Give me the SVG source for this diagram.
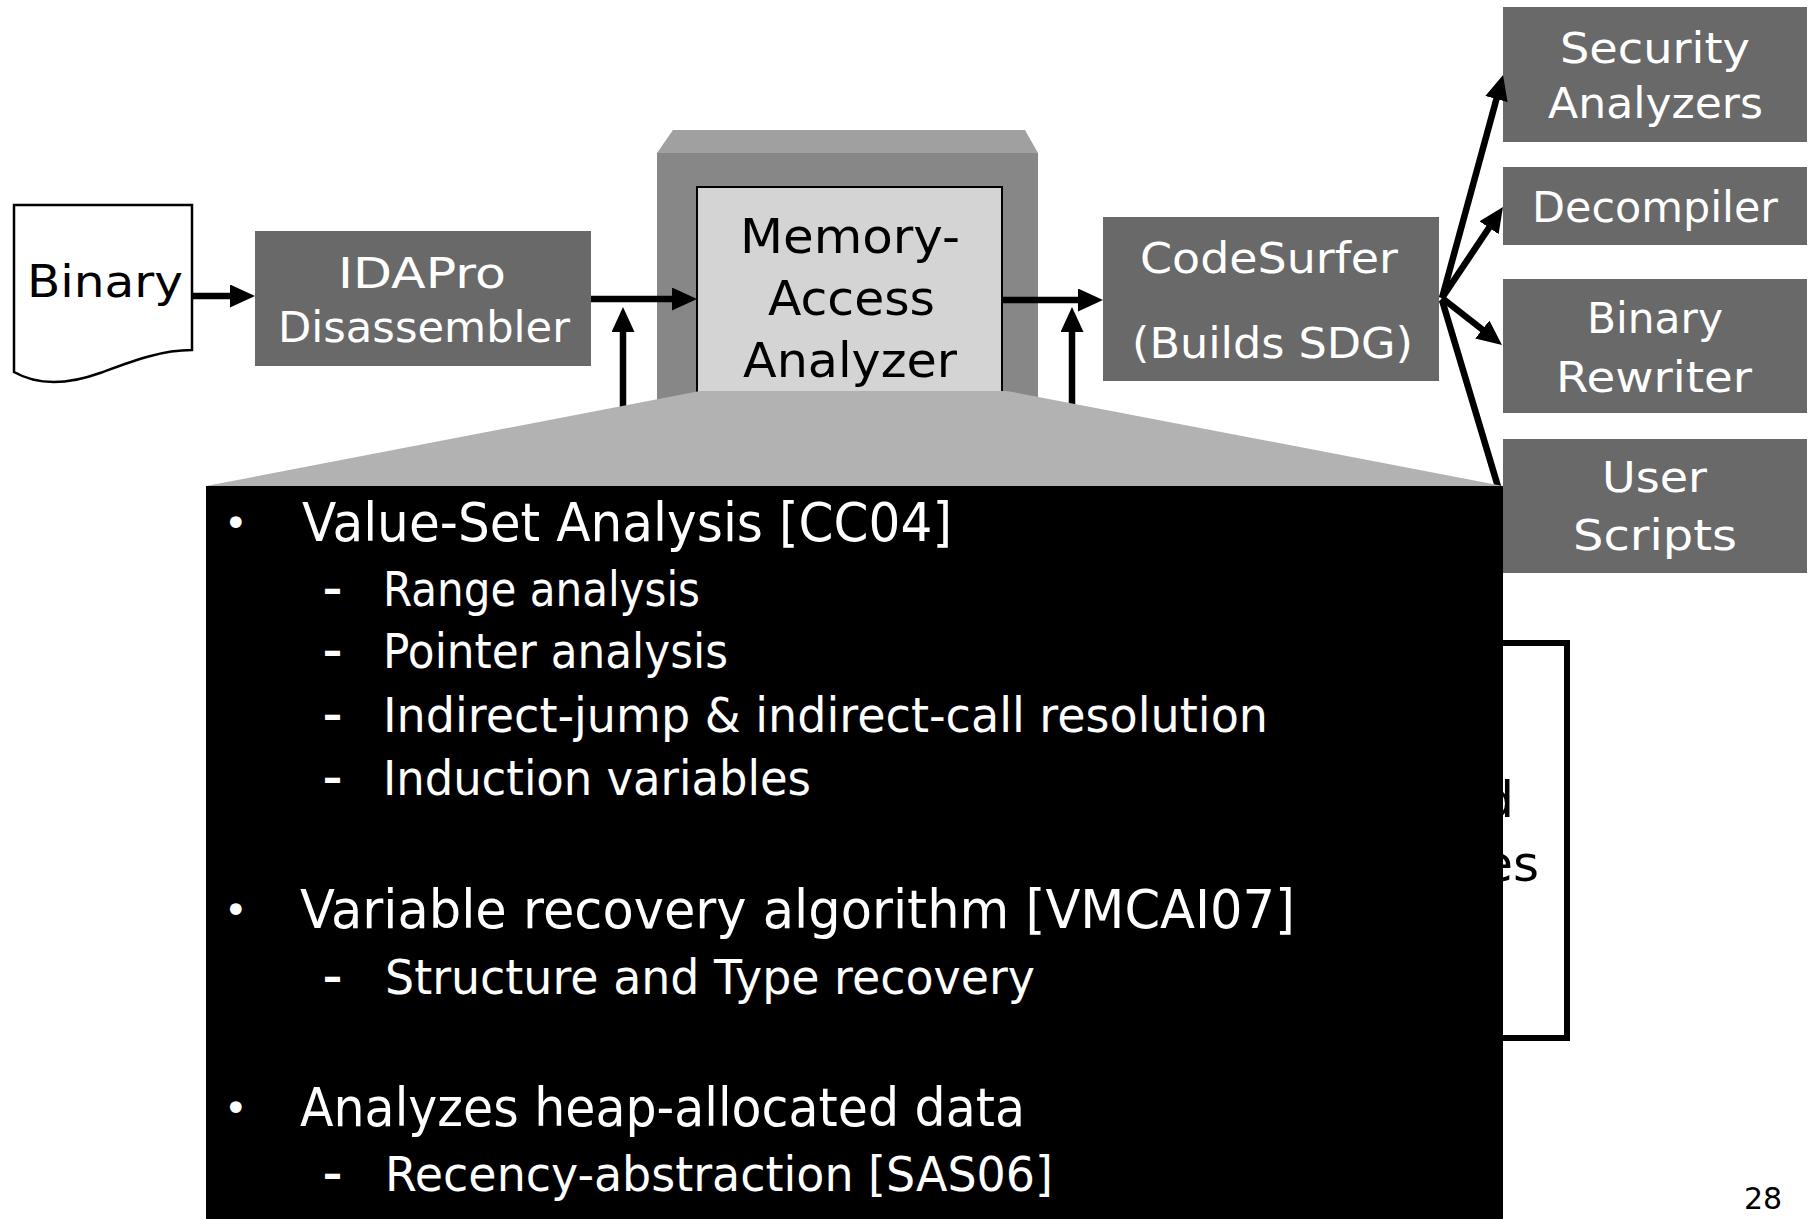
<svg xmlns="http://www.w3.org/2000/svg" width="1816" height="1219" viewBox="0 0 1816 1219">
<style>
  .box{fill:#696969}
  .t{font-family:"DejaVu Sans","Liberation Sans",sans-serif}
  .w{fill:#ffffff;font-size:42px}
  .k{fill:#000000}
  .conn{stroke:#000;stroke-width:6.5;fill:none}
  .b1{fill:#fff;font-size:54px}
  .b2{fill:#fff;font-size:48px}
  .bul{fill:#fff;font-size:40px}
  .dash{fill:#fff;font-size:40px;font-weight:bold}
</style>
<defs>
  <marker id="ah" markerUnits="userSpaceOnUse" viewBox="0 0 25 23" markerWidth="25" markerHeight="23" refX="15" refY="11.5" orient="auto">
    <path d="M0,0 L25,11.5 L0,23 Z" fill="#000"/>
  </marker>
</defs>
<rect x="0" y="0" width="1816" height="1219" fill="#fff"/>

<g id="binary">
  <path d="M14,205 H192 V350 C160,350 130,362 100,373 C75,382 42,388 14,372 Z" fill="#fff" stroke="#000" stroke-width="2.5"/>
  <text class="t k" x="27" y="297" font-size="44" textLength="156" lengthAdjust="spacingAndGlyphs">Binary</text>
</g>

<g id="idapro">
  <rect class="box" x="255" y="231" width="336" height="135"/>
  <text class="t w" x="338" y="288" textLength="168" lengthAdjust="spacingAndGlyphs">IDAPro</text>
  <text class="t w" x="278" y="342" textLength="292" lengthAdjust="spacingAndGlyphs">Disassembler</text>
</g>

<g id="memory">
  <path d="M657,153 L673,130 L1025,130 L1038,153 Z" fill="#a0a0a0"/>
  <rect x="657" y="153" width="381" height="290" fill="#878787"/>
  <rect x="697" y="187" width="305" height="240" fill="#d4d4d4" stroke="#000" stroke-width="2"/>
  <text class="t k" x="740" y="253" font-size="48" textLength="220" lengthAdjust="spacingAndGlyphs">Memory-</text>
  <text class="t k" x="768" y="315" font-size="48" textLength="167" lengthAdjust="spacingAndGlyphs">Access</text>
  <text class="t k" x="743" y="377" font-size="48" textLength="214" lengthAdjust="spacingAndGlyphs">Analyzer</text>
</g>

<g id="codesurfer">
  <rect class="box" x="1103" y="217" width="336" height="164"/>
  <text class="t w" x="1140" y="273" textLength="258" lengthAdjust="spacingAndGlyphs">CodeSurfer</text>
  <text class="t w" x="1132" y="358" textLength="281" lengthAdjust="spacingAndGlyphs">(Builds SDG)</text>
</g>

<g id="security">
  <rect class="box" x="1503" y="7" width="304" height="135"/>
  <text class="t w" x="1560" y="63" textLength="190" lengthAdjust="spacingAndGlyphs">Security</text>
  <text class="t w" x="1548" y="118" textLength="215" lengthAdjust="spacingAndGlyphs">Analyzers</text>
</g>

<g id="decompiler">
  <rect class="box" x="1503" y="167" width="304" height="78"/>
  <text class="t w" x="1532" y="222" textLength="246" lengthAdjust="spacingAndGlyphs">Decompiler</text>
</g>

<g id="rewriter">
  <rect class="box" x="1503" y="279" width="304" height="134"/>
  <text class="t w" x="1587" y="333" textLength="136" lengthAdjust="spacingAndGlyphs">Binary</text>
  <text class="t w" x="1556" y="392" textLength="196" lengthAdjust="spacingAndGlyphs">Rewriter</text>
</g>

<g id="userscripts">
  <rect class="box" x="1503" y="439" width="304" height="134"/>
  <text class="t w" x="1602" y="492" textLength="105" lengthAdjust="spacingAndGlyphs">User</text>
  <text class="t w" x="1573" y="550" textLength="164" lengthAdjust="spacingAndGlyphs">Scripts</text>
</g>

<g id="resultbox">
  <rect x="1400" y="643" width="167" height="395" fill="#fff" stroke="#000" stroke-width="6"/>
  <text class="t k" x="1514" y="817" font-size="50" text-anchor="end">d</text>
  <text class="t k" x="1539" y="881" font-size="50" text-anchor="end">es</text>
</g>

<g id="connectors">
  <line class="conn" x1="192" y1="296" x2="245" y2="296" marker-end="url(#ah)"/>
  <line class="conn" x1="591" y1="299" x2="687" y2="299" marker-end="url(#ah)"/>
  <line class="conn" x1="623" y1="425" x2="623" y2="317" marker-end="url(#ah)"/>
  <line class="conn" x1="1002" y1="300" x2="1093" y2="300" marker-end="url(#ah)"/>
  <line class="conn" x1="1072" y1="425" x2="1072" y2="317" marker-end="url(#ah)"/>
  <line class="conn" x1="1442" y1="298" x2="1500.4" y2="84.6" marker-end="url(#ah)"/>
  <line class="conn" x1="1442" y1="298" x2="1497.4" y2="215.3" marker-end="url(#ah)"/>
  <line class="conn" x1="1442" y1="298" x2="1494.1" y2="338.8" marker-end="url(#ah)"/>
  <line class="conn" x1="1442" y1="300" x2="1499" y2="490"/>
</g>

<g id="callout">
  <polygon points="700,391 1007,391 1503,486 206,486" fill="#b2b2b2"/>
  <rect x="206" y="486" width="1297" height="733" fill="#000"/>
  <text class="t bul" x="224" y="537">•</text>
  <text class="t b1" x="302" y="541" textLength="650" lengthAdjust="spacingAndGlyphs">Value-Set Analysis [CC04]</text>
  <text class="t dash" x="323" y="603" textLength="19" lengthAdjust="spacingAndGlyphs">–</text>
  <text class="t b2" x="383" y="606" textLength="317" lengthAdjust="spacingAndGlyphs">Range analysis</text>
  <text class="t dash" x="323" y="665" textLength="19" lengthAdjust="spacingAndGlyphs">–</text>
  <text class="t b2" x="383" y="668" textLength="345" lengthAdjust="spacingAndGlyphs">Pointer analysis</text>
  <text class="t dash" x="323" y="729" textLength="19" lengthAdjust="spacingAndGlyphs">–</text>
  <text class="t b2" x="383" y="732" textLength="885" lengthAdjust="spacingAndGlyphs">Indirect-jump &amp; indirect-call resolution</text>
  <text class="t dash" x="323" y="792" textLength="19" lengthAdjust="spacingAndGlyphs">–</text>
  <text class="t b2" x="383" y="795" textLength="428" lengthAdjust="spacingAndGlyphs">Induction variables</text>
  <text class="t bul" x="224" y="924">•</text>
  <text class="t b1" x="300" y="928" textLength="995" lengthAdjust="spacingAndGlyphs">Variable recovery algorithm [VMCAI07]</text>
  <text class="t dash" x="323" y="991" textLength="19" lengthAdjust="spacingAndGlyphs">–</text>
  <text class="t b2" x="385" y="994" textLength="650" lengthAdjust="spacingAndGlyphs">Structure and Type recovery</text>
  <text class="t bul" x="224" y="1122">•</text>
  <text class="t b1" x="300" y="1126" textLength="725" lengthAdjust="spacingAndGlyphs">Analyzes heap-allocated data</text>
  <text class="t dash" x="323" y="1188" textLength="19" lengthAdjust="spacingAndGlyphs">–</text>
  <text class="t b2" x="385" y="1191" textLength="668" lengthAdjust="spacingAndGlyphs">Recency-abstraction [SAS06]</text>
</g>

<text class="t k" x="1744" y="1209" font-size="30">28</text>
</svg>
